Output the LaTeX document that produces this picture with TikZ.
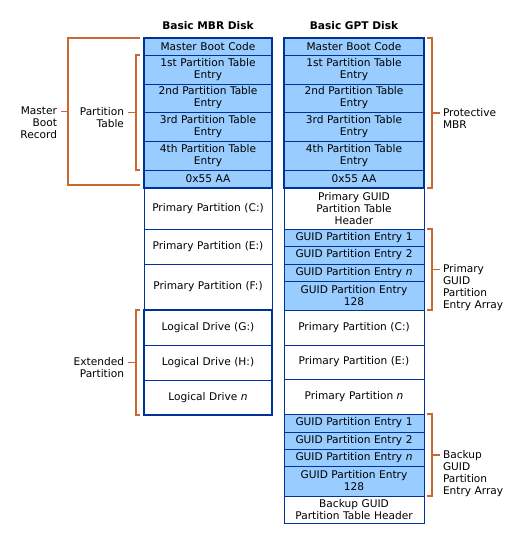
\documentclass[tikz,border=0pt]{standalone}
\usepackage{fontspec}
\setmainfont{DejaVu Sans}
\usetikzlibrary{positioning}
\definecolor{diskblue}{HTML}{003399}
\definecolor{cellblue}{HTML}{99CCFF}
\definecolor{braceorange}{HTML}{CC6633}

\begin{document}
\begin{tikzpicture}[x=1pt, y=-1pt,
        every node/.style={font=\fontsize{10.6}{12}\selectfont, inner sep=0pt, outer sep=0pt},
        cell/.style={draw=diskblue, line width=1pt, align=center, minimum height=#1},
        mcell/.style={cell=#1, minimum width=128pt, text width=128pt},
        gcell/.style={cell=#1, minimum width=140pt, text width=140pt},
        mbr/.style={fill=cellblue},
        heading/.style={font=\fontsize{10.6}{12}\selectfont\bfseries},
        thickbox/.style={draw=diskblue, line width=2.5pt},
        brace/.style={draw=braceorange, line width=1.5pt}]
        \useasboundingbox (0,0) rectangle (525,544);

        \node[mcell=17pt, mbr, anchor=north] (M_1) at (208,38) {Master Boot Code};
        \node[mcell=29pt, mbr, below=0pt of M_1] (M_2) {1st Partition Table\\Entry};
        \node[mcell=28pt, mbr, below=0pt of M_2] (M_3) {2nd Partition Table\\Entry};
        \node[mcell=29pt, mbr, below=0pt of M_3] (M_4) {3rd Partition Table\\Entry};
        \node[mcell=29pt, mbr, below=0pt of M_4] (M_5) {4th Partition Table\\Entry};
        \node[mcell=18pt, mbr, below=0pt of M_5] (M_6) {0x55 AA};
        \node[mcell=41pt, below=0pt of M_6] (M_7) {Primary Partition (C:)};
        \node[mcell=35pt, below=0pt of M_7] (M_8) {Primary Partition (E:)};
        \node[mcell=46pt, below=0pt of M_8] (M_9) {Primary Partition (F:)};
        \node[mcell=35pt, below=0pt of M_9] (M_10) {Logical Drive (G:)};
        \node[mcell=35pt, below=0pt of M_10] (M_11) {Logical Drive (H:)};
        \node[mcell=35pt, below=0pt of M_11] (M_12) {Logical Drive \textit{n}};

        \node[gcell=17pt, mbr, anchor=north] (G_1) at (354,38) {Master Boot Code};
        \node[gcell=29pt, mbr, below=0pt of G_1] (G_2) {1st Partition Table\\Entry};
        \node[gcell=28pt, mbr, below=0pt of G_2] (G_3) {2nd Partition Table\\Entry};
        \node[gcell=29pt, mbr, below=0pt of G_3] (G_4) {3rd Partition Table\\Entry};
        \node[gcell=29pt, mbr, below=0pt of G_4] (G_5) {4th Partition Table\\Entry};
        \node[gcell=18pt, mbr, below=0pt of G_5] (G_6) {0x55 AA};
        \node[gcell=41pt, below=0pt of G_6] (G_7) {Primary GUID\\Partition Table\\Header};
        \node[gcell=17pt, mbr, below=0pt of G_7] (G_8) {GUID Partition Entry 1};
        \node[gcell=18pt, mbr, below=0pt of G_8] (G_9) {GUID Partition Entry 2};
        \node[gcell=17pt, mbr, below=0pt of G_9] (G_10) {GUID Partition Entry \textit{n}};
        \node[gcell=29pt, mbr, below=0pt of G_10] (G_11) {GUID Partition Entry\\128};
        \node[gcell=35pt, below=0pt of G_11] (G_12) {Primary Partition (C:)};
        \node[gcell=34pt, below=0pt of G_12] (G_13) {Primary Partition (E:)};
        \node[gcell=35pt, below=0pt of G_13] (G_14) {Primary Partition \textit{n}};
        \node[gcell=18pt, mbr, below=0pt of G_14] (G_15) {GUID Partition Entry 1};
        \node[gcell=17pt, mbr, below=0pt of G_15] (G_16) {GUID Partition Entry 2};
        \node[gcell=17pt, mbr, below=0pt of G_16] (G_17) {GUID Partition Entry \textit{n}};
        \node[gcell=30pt, mbr, below=0pt of G_17] (G_18) {GUID Partition Entry\\128};
        \node[gcell=27pt, below=0pt of G_18] (G_19) {Backup GUID\\Partition Table Header};

        \node[heading, above=8.5pt of M_1] (mbr_title) {Basic MBR Disk};
        \node[heading, above=8.5pt of G_1] (gpt_title) {Basic GPT Disk};

        \draw[thickbox] (M_1.north west) rectangle (M_6.south east);
        \draw[thickbox] (G_1.north west) rectangle (G_6.south east);
        \draw[thickbox] (M_10.north west) rectangle (M_12.south east);

        % brackets on the left
        \draw[brace] ([xshift=-4pt]M_1.north west) -| coordinate[pos=0.75] (mbr_mid) ([xshift=-76pt,yshift=3pt]M_6.south west) -- ([xshift=-4pt,yshift=3pt]M_6.south west);
        \draw[brace] (mbr_mid) -- ++(-7,0) node[anchor=north east, align=right, xshift=-4pt, yshift=5pt] (mbr_lbl) {Master\\Boot\\Record};
        \draw[brace] ([xshift=-4pt]M_2.north west) -| coordinate[pos=0.75] (pt_mid) ([xshift=-8pt]M_5.south west) -- ([xshift=-4pt]M_5.south west);
        \draw[brace] (pt_mid) -- ++(-8,0) node[anchor=north east, align=right, xshift=-4pt, yshift=5pt] (pt_lbl) {Partition\\Table};
        \draw[brace] ([xshift=-4pt]M_10.north west) -| coordinate[pos=0.75] (ext_mid) ([xshift=-8pt]M_12.south west) -- ([xshift=-4pt]M_12.south west);
        \draw[brace] (ext_mid) -- ++(-8,0) node[anchor=north east, align=right, xshift=-4pt, yshift=5pt] (ext_lbl) {Extended\\Partition};

        % brackets on the right
        \draw[brace] ([xshift=3pt]G_1.north east) -| coordinate[pos=0.75] (pmbr_mid) ([xshift=8pt]G_6.south east) -- ([xshift=3pt]G_6.south east);
        \draw[brace] (pmbr_mid) -- ++(8,0) node[anchor=north west, align=left, xshift=3pt, yshift=5pt] (pmbr_lbl) {Protective\\MBR};
        \draw[brace] ([xshift=3pt]G_8.north east) -| coordinate[pos=0.75] (pri_mid) ([xshift=8pt]G_11.south east) -- ([xshift=3pt]G_11.south east);
        \draw[brace] (pri_mid) -- ++(8,0) node[anchor=north west, align=left, xshift=3pt, yshift=5pt] (pri_lbl) {Primary\\GUID\\Partition\\Entry Array};
        \draw[brace] ([xshift=3pt]G_15.north east) -| coordinate[pos=0.75] (bak_mid) ([xshift=8pt]G_18.south east) -- ([xshift=3pt]G_18.south east);
        \draw[brace] (bak_mid) -- ++(8,0) node[anchor=north west, align=left, xshift=3pt, yshift=5pt] (bak_lbl) {Backup\\GUID\\Partition\\Entry Array};
    \end{tikzpicture}
\end{document}
